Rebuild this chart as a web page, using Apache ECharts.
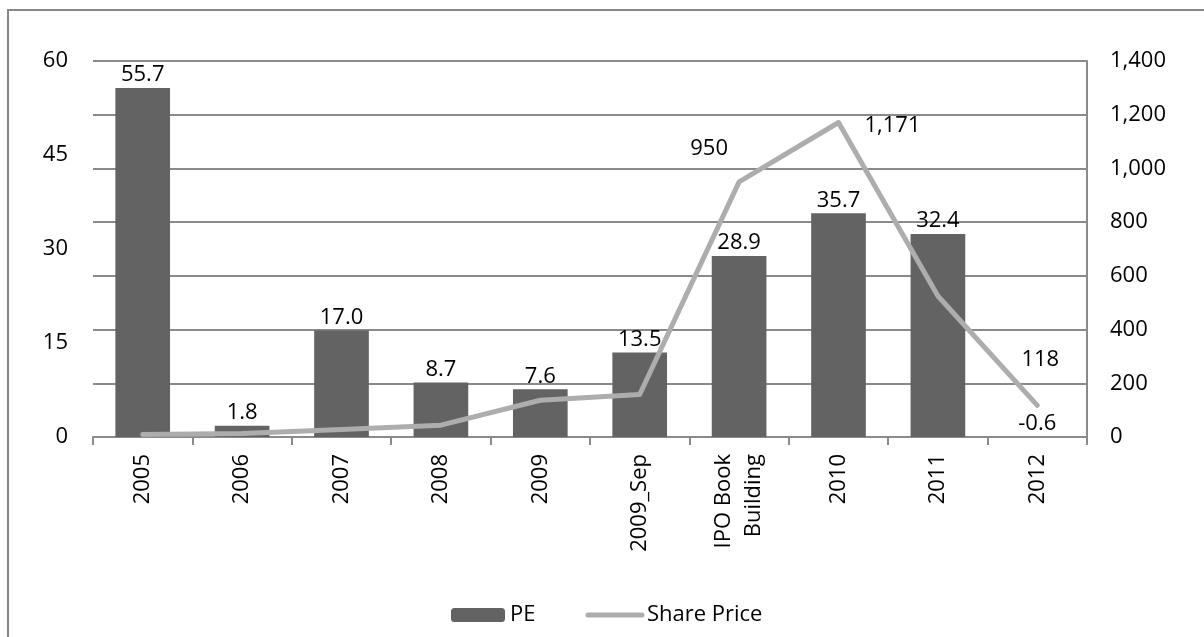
<!DOCTYPE html>
<html>
<head>
<meta charset="utf-8">
<script src="https://cdn.jsdelivr.net/npm/echarts@6/dist/echarts.min.js"></script>
<style>
  html, body { margin: 0; padding: 0; background: #fff; }
  #chart { width: 1204px; height: 637px; }
</style>
</head>
<body>
<div id="chart"></div>
<script>
// Categories along the x axis
var categories = ['2005', '2006', '2007', '2008', '2009', '2009_Sep', 'IPO Book\nBuilding', '2010', '2011', '2012'];
// Price/earnings ratio (left axis, bars)
var peValues = [55.7, 1.8, 17.0, 8.7, 7.6, 13.5, 28.9, 35.7, 32.4, -0.6];
// Share price (right axis, line)
var priceValues = [9, 13, 28, 44, 137, 158, 950, 1171, 525, 118];
// Points of the price line that carry a value label
var labelledPrice = [6, 7, 9];
// Tick settings for both value axes
var peTicks = { min: 0, max: 60, interval: 15 };
var priceTicks = { min: 0, max: 1400, interval: 200 };

var FONT = '"Open Sans", "Noto Sans", sans-serif';
var GRID = '#8a8a8a';
var BAR = '#636363';
var LINE = '#adadad';

// Where each price label sits relative to its point
var priceLabelOffset = { 6: [-30, -33], 7: [54, 3], 9: [3, -46] };

var priceData = priceValues.map(function (v, i) {
  var item = { value: v };
  if (labelledPrice.indexOf(i) >= 0) {
    item.label = {
      show: true,
      position: 'inside',
      offset: priceLabelOffset[i],
      formatter: function (p) { return p.value.toLocaleString('en-US'); }
    };
  }
  return item;
});

var chart = echarts.init(document.getElementById('chart'), null, { renderer: 'canvas' });
chart.setOption({
  animation: false,
  backgroundColor: '#fff',
  textStyle: { fontFamily: FONT, color: '#000' },
  graphic: [{
    type: 'rect',
    shape: { x: 8, y: 10, width: 1260, height: 720 },
    style: { fill: 'none', stroke: '#878787', lineWidth: 2 },
    silent: true
  }],
  grid: { left: 93, right: 117, top: 61, bottom: 200, containLabel: false },
  legend: {
    left: 446,
    top: 599,
    itemWidth: 54,
    itemHeight: 14,
    itemGap: 50,
    textStyle: { fontFamily: FONT, fontSize: 22, color: '#000' },
    data: [
      { name: 'PE' },
      {
        name: 'Share Price',
        itemStyle: { opacity: 0 },
        lineStyle: { width: 5, color: LINE, cap: 'round' }
      }
    ]
  },
  xAxis: {
    type: 'category',
    data: categories,
    boundaryGap: true,
    axisLine: { show: true, lineStyle: { color: GRID, width: 2 } },
    axisTick: { show: true, length: 8, lineStyle: { color: GRID, width: 2 } },
    axisLabel: {
      rotate: 90,
      margin: 17,
      interval: 0,
      fontFamily: FONT,
      fontSize: 22,
      color: '#000',
      lineHeight: 30
    },
    splitLine: { show: false }
  },
  yAxis: [{
    type: 'value',
    position: 'left',
    min: peTicks.min,
    max: peTicks.max,
    interval: peTicks.interval,
    axisLine: { show: false },
    axisTick: { show: false },
    splitLine: { show: false },
    axisLabel: { margin: 25, fontFamily: FONT, fontSize: 22, color: '#000' }
  }, {
    type: 'value',
    position: 'right',
    min: priceTicks.min,
    max: priceTicks.max,
    interval: priceTicks.interval,
    axisLine: { show: true, lineStyle: { color: GRID, width: 2 } },
    axisTick: { show: false },
    splitLine: { show: true, lineStyle: { color: GRID, width: 2 } },
    axisLabel: {
      margin: 23,
      fontFamily: FONT,
      fontSize: 22,
      color: '#000',
      formatter: function (v) { return v.toLocaleString('en-US'); }
    }
  }],
  series: [{
    name: 'PE',
    type: 'bar',
    yAxisIndex: 0,
    data: peValues,
    barWidth: '55%',
    itemStyle: { color: BAR },
    label: {
      show: true,
      position: 'top',
      distance: 2,
      fontFamily: FONT,
      fontSize: 22,
      color: '#000',
      formatter: function (p) { return p.value.toFixed(1); }
    },
    z: 2
  }, {
    name: 'Share Price',
    type: 'line',
    yAxisIndex: 1,
    data: priceData,
    symbol: 'circle',
    symbolSize: 4,
    itemStyle: { color: LINE },
    lineStyle: { color: LINE, width: 5, cap: 'round', join: 'round' },
    label: {
      show: false,
      fontFamily: FONT,
      fontSize: 22,
      color: '#000'
    },
    z: 3
  }]
});
</script>
</body>
</html>
